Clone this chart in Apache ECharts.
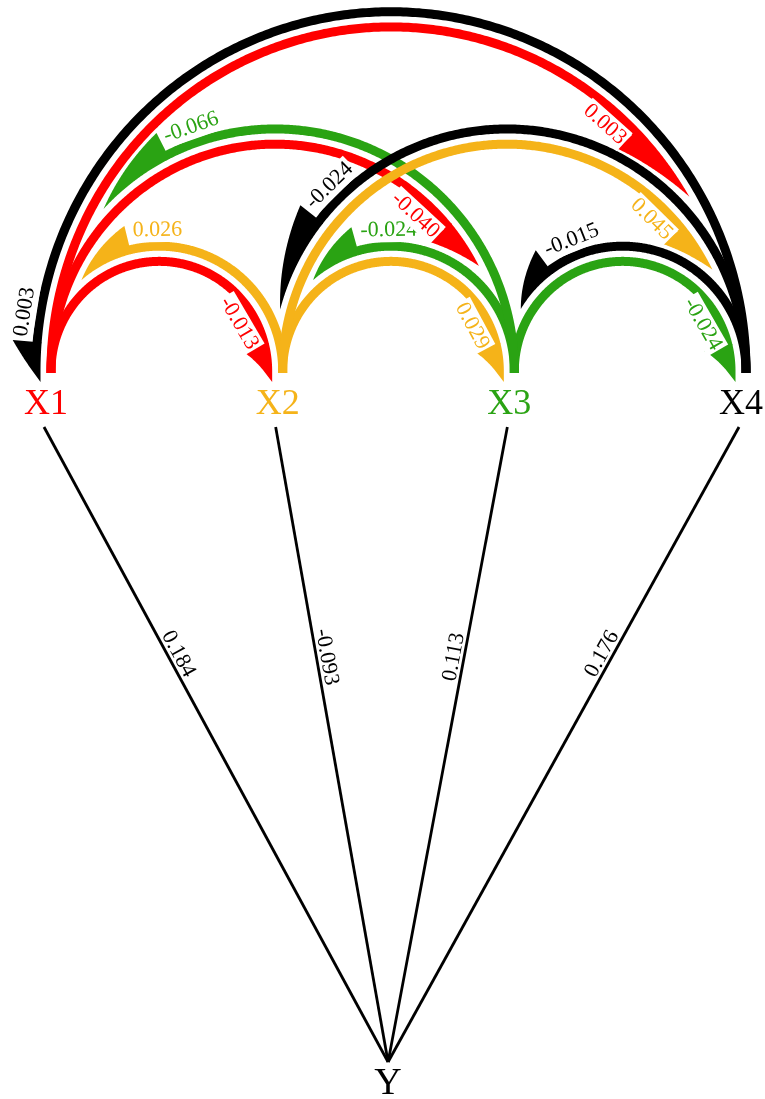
<!DOCTYPE html>
<html>
<head>
<meta charset="utf-8">
<script src="https://cdn.jsdelivr.net/npm/echarts@6/dist/echarts.min.js"></script>
<style>
  html, body { margin: 0; padding: 0; background: #ffffff; }
  #chart { width: 765px; height: 1099px; }
</style>
</head>
<body>
<div id="chart"></div>
<script>
// Predictors (top row) and outcome (bottom)
const nodeNames  = ['X1', 'X2', 'X3', 'X4'];
const nodeColors = ['#ff0000', '#f5b319', '#2aa313', '#000000'];
const nodePosX   = [1, 2, 3, 4];
const outcomeName = 'Y';
const outcomePosX = 2.455;
const predictorLevel = 1;
const outcomeLevel = 0;

// Direct effects X_i -> Y
const directEffects = [0.184, -0.093, 0.113, 0.176];

// Effects between predictors (source index -> target index)
const arcFrom  = [0, 1, 1, 2, 2, 3, 0, 2, 1, 3, 0, 3];
const arcTo    = [1, 0, 2, 1, 3, 2, 2, 0, 3, 1, 3, 0];
const arcValue = [-0.013, 0.026, 0.029, -0.024, -0.024, -0.015, -0.040, -0.066, 0.045, -0.024, 0.003, 0.003];

// Arrow-head styling per arc: tip angle (deg above the target side),
// drop of the tip below the baseline (px) and head length (px)
const arcTipAngle = [0, 49, 0, 49, 0, 31, 27, 43, 26, 15, 30, 0];
const arcTipDrop  = [11, 0, 11, 0, 11, 0, 0, 0, 0, 0, 0, 11];
const arcHeadLen  = [38, 59, 38, 55, 37, 50, 50, 85, 51, 99, 84, 40];

const ARC_W = 9;            // stroke width of the arcs
const HEAD_FLARE = 20;      // how far the head widens beyond the stroke
const TARGET_SHIFT = 15;    // arcs land slightly left of the target anchor
const ARC_RISE = 1.012;     // slight vertical stretch of the arcs
const LABEL_FONT = 22;
const NODE_FONT = 36;
const SERIF = '"Liberation Serif", "Times New Roman", serif';

const measureCtx = document.createElement('canvas').getContext('2d');
function textWidth(txt, size) {
  measureCtx.font = size + 'px ' + SERIF;
  return measureCtx.measureText(txt).width;
}
function fmt(v) { return v.toFixed(3); }

function readableAngle(dx, dy) {
  let a = Math.atan2(-dy, dx);
  if (a > Math.PI / 2) a -= Math.PI;
  if (a < -Math.PI / 2) a += Math.PI;
  return a;
}

// Polyline of an arc: short stub, half-ellipse over the top, optional drop
function rawArcPoints(xs, xt, yc, tipAngleDeg, drop) {
  const cx = (xs + xt) / 2, r = Math.abs(xt - xs) / 2;
  const pts = [[xs, yc + 2]];
  const aEnd = 180 - tipAngleDeg;
  const n = 360;
  for (let k = 0; k <= n; k++) {
    const a = (aEnd * k / n) * Math.PI / 180;
    pts.push([cx + (xs - cx) * Math.cos(a), yc - r * ARC_RISE * Math.sin(a)]);
  }
  if (drop > 0) pts.push([xt, yc + drop]);
  return pts;
}

function makePath(pts) {
  const cum = [0];
  for (let i = 1; i < pts.length; i++) {
    cum.push(cum[i - 1] + Math.hypot(pts[i][0] - pts[i - 1][0], pts[i][1] - pts[i - 1][1]));
  }
  const total = cum[cum.length - 1];
  function at(s) {
    s = Math.max(0, Math.min(total, s));
    let i = 1;
    while (i < cum.length - 1 && cum[i] < s) i++;
    const seg = cum[i] - cum[i - 1] || 1;
    const t = (s - cum[i - 1]) / seg;
    const p0 = pts[i - 1], p1 = pts[i];
    const dx = (p1[0] - p0[0]) / seg, dy = (p1[1] - p0[1]) / seg;
    return { x: p0[0] + (p1[0] - p0[0]) * t, y: p0[1] + (p1[1] - p0[1]) * t, dx: dx, dy: dy };
  }
  return { pts: pts, cum: cum, total: total, at: at };
}

function arcGeometry(api, idx) {
  const src = api.coord([api.value(0), predictorLevel]);
  const tgt = api.coord([api.value(1), predictorLevel]);
  const xs = src[0];
  const xt = tgt[0] - TARGET_SHIFT;
  const yc = src[1];
  const path = makePath(rawArcPoints(xs, xt, yc, arcTipAngle[idx], arcTipDrop[idx]));
  const sBack = path.total - arcHeadLen[idx];
  return { path: path, sBack: sBack };
}

function renderArc(params, api) {
  const idx = params.dataIndex;
  const color = nodeColors[arcFrom[idx]];
  const g = arcGeometry(api, idx);
  const path = g.path;
  const body = [];
  for (let i = 0; i < path.pts.length; i++) {
    if (path.cum[i] <= g.sBack + 1) body.push(path.pts[i]);
  }
  const pb = path.at(g.sBack + 1);
  body.push([pb.x, pb.y]);

  const left = [], right = [];
  const L = arcHeadLen[idx];
  const steps = Math.ceil(L);
  for (let k = 0; k <= steps; k++) {
    const s = g.sBack + L * k / steps;
    const u = k / steps;
    const p = path.at(s);
    const nLx = p.dy, nLy = -p.dx;      // left of travel
    const nRx = -p.dy, nRy = p.dx;      // right of travel
    left.push([p.x + nLx * ARC_W / 2, p.y + nLy * ARC_W / 2]);
    const off = (ARC_W / 2 + HEAD_FLARE) * (1 - u) - (ARC_W / 2) * u;
    right.push([p.x + nRx * off, p.y + nRy * off]);
  }
  const head = left.concat(right.reverse());

  return {
    type: 'group',
    children: [
      { type: 'polyline', shape: { points: body },
        style: { stroke: color, lineWidth: ARC_W, fill: null, lineJoin: 'round' } },
      { type: 'polygon', shape: { points: head },
        style: { fill: color, stroke: null } }
    ]
  };
}

function renderArcLabel(params, api) {
  const idx = params.dataIndex;
  const color = nodeColors[arcFrom[idx]];
  const g = arcGeometry(api, idx);
  const txt = fmt(api.value(2));
  const w = textWidth(txt, LABEL_FONT) + 4;
  const p = g.path.at(g.sBack - w / 2 - 1);
  const nRx = -p.dy, nRy = p.dx;
  const off = ARC_W / 2 + 11.5;
  return {
    type: 'text',
    x: p.x + nRx * off,
    y: p.y + nRy * off,
    rotation: readableAngle(p.dx, p.dy),
    style: {
      x: 0, y: 0, text: txt, fill: color,
      font: LABEL_FONT + 'px ' + SERIF,
      align: 'center', verticalAlign: 'middle',
      backgroundColor: '#ffffff', padding: [1, 2], lineHeight: 22
    }
  };
}

function renderDirect(params, api) {
  const top = api.coord([api.value(0), predictorLevel]);
  const bottom = api.coord([outcomePosX, outcomeLevel]);
  const x0 = top[0] - 7, y0 = top[1] + 56;
  const x1 = bottom[0], y1 = bottom[1];
  const len = Math.hypot(x1 - x0, y1 - y0);
  const dx = (x1 - x0) / len, dy = (y1 - y0) / len;
  // normal pointing to the upper side of the line
  let nx = dy, ny = -dx;
  if (ny > 0) { nx = -nx; ny = -ny; }
  const t = 0.365;
  const lx = x0 + (x1 - x0) * t + nx * 10;
  const ly = y0 + (y1 - y0) * t + ny * 10;
  return {
    type: 'group',
    children: [
      { type: 'line', shape: { x1: x0, y1: y0, x2: x1, y2: y1 },
        style: { stroke: '#000000', lineWidth: 2.8 } },
      { type: 'text', x: lx, y: ly, rotation: readableAngle(dx, dy),
        style: { x: 0, y: 0, text: fmt(api.value(1)), fill: '#000000',
                 font: LABEL_FONT + 'px ' + SERIF,
                 align: 'center', verticalAlign: 'middle' } }
    ]
  };
}

function renderNode(params, api) {
  const idx = params.dataIndex;
  const isOutcome = idx === nodeNames.length;
  const p = api.coord([api.value(0), api.value(1)]);
  return {
    type: 'text',
    x: isOutcome ? p[0] : p[0] - 5,
    y: isOutcome ? p[1] + 22 : p[1] + 34,
    style: {
      x: 0, y: 0,
      text: isOutcome ? outcomeName : nodeNames[idx],
      fill: isOutcome ? '#000000' : nodeColors[idx],
      font: (isOutcome ? NODE_FONT + 2 : NODE_FONT) + 'px ' + SERIF,
      align: 'center', verticalAlign: 'middle'
    }
  };
}

const arcData = arcValue.map((v, i) => [nodePosX[arcFrom[i]], nodePosX[arcTo[i]], v]);
const directData = directEffects.map((v, i) => [nodePosX[i], v]);
const nodeData = nodePosX.map(x => [x, predictorLevel]).concat([[outcomePosX, outcomeLevel]]);

const chart = echarts.init(document.getElementById('chart'), null, { renderer: 'canvas' });
chart.setOption({
  animation: false,
  backgroundColor: '#ffffff',
  grid: { left: 51, right: 19, top: 371, bottom: 37 },
  xAxis: { type: 'value', min: 1, max: 4, show: false },
  yAxis: { type: 'value', min: 0, max: 1, show: false },
  series: [
    { type: 'custom', name: 'direct', coordinateSystem: 'cartesian2d', clip: false, z: 1,
      data: directData, renderItem: renderDirect },
    { type: 'custom', name: 'arcs', coordinateSystem: 'cartesian2d', clip: false, z: 2,
      data: arcData, renderItem: renderArc },
    { type: 'custom', name: 'arcLabels', coordinateSystem: 'cartesian2d', clip: false, z: 3,
      data: arcData, renderItem: renderArcLabel },
    { type: 'custom', name: 'nodes', coordinateSystem: 'cartesian2d', clip: false, z: 4,
      data: nodeData, renderItem: renderNode }
  ]
});
</script>
</body>
</html>
